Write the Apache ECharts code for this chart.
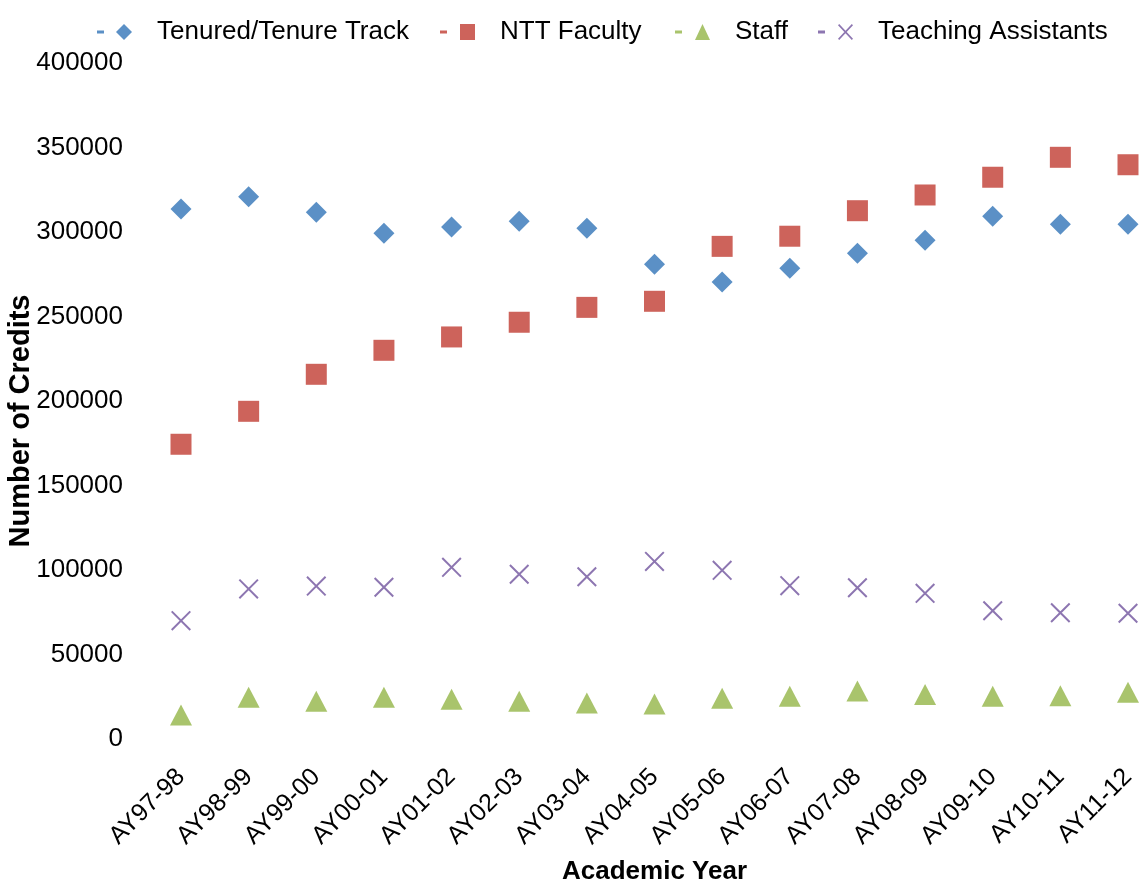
<!DOCTYPE html>
<html>
<head>
<meta charset="utf-8">
<script src="https://cdn.jsdelivr.net/npm/echarts@6/dist/echarts.min.js"></script>
<style>
html,body{margin:0;padding:0;background:#fff;}
#chart{width:1141px;height:886px;}
</style>
</head>
<body>
<div id="chart"></div>
<script>
const categories = ['AY97-98','AY98-99','AY99-00','AY00-01','AY01-02','AY02-03','AY03-04','AY04-05','AY05-06','AY06-07','AY07-08','AY08-09','AY09-10','AY10-11','AY11-12'];
const tenured = [313600,320900,311700,299200,303000,306300,302200,280900,270400,278500,287400,295100,309300,304600,304600];
const nttFaculty = [174400,193900,215800,230000,237900,246600,255400,259000,291500,297500,312600,321900,332400,344200,339800];
const staff = [14200,24700,22300,24700,23500,22300,21300,20700,24100,25300,28400,26400,25300,25600,27600];
const teachingAssistants = [70000,88800,90500,89800,101600,97500,96000,105100,99800,90700,89500,86200,75900,74700,74400];
const yMin = 0, yMax = 400000, yStep = 50000;

const FONT = '"Liberation Sans", Arial, sans-serif';
const C_TEN = '#5B90C6', C_NTT = '#CD635B', C_STAFF = '#A9C46C', C_TA = '#8D76B1';

const xPath = 'path://M0,1.4L1.4,0L20,18.6L18.6,20Z M18.6,0L20,1.4L1.4,20L0,18.6Z';
const dot = 'M0,6.5L7,6.5L7,9.5L0,9.5Z ';
const iconTen = 'path://' + dot + 'M27,0L35,8L27,16L19,8Z';
const iconNtt = 'path://' + dot + 'M20,0L35,0L35,16L20,16Z';
const iconStaff = 'path://' + dot + 'M27.5,0L35,16L20,16Z';
const iconTa = 'path://' + dot + 'M20,1.2L21.2,0L35,14.8L33.8,16Z M33.8,0L35,1.2L21.2,16L20,14.8Z';

function legend(name, left, icon) {
  return {
    left: left, top: 14, itemWidth: 35, itemHeight: 16, itemGap: 0,
    data: [{name: name, icon: icon}],
    textStyle: {fontFamily: FONT, fontSize: 26, color: '#000', padding: [0,0,0,20]}
  };
}

const chart = echarts.init(document.getElementById('chart'), null, {renderer: 'canvas'});
chart.setOption({
  backgroundColor: '#fff',
  animation: false,
  legend: [
    legend('Tenured/Tenure Track', 92, iconTen),
    legend('NTT Faculty', 435, iconNtt),
    legend('Staff', 670, iconStaff),
    legend('Teaching Assistants', 813, iconTa)
  ],
  grid: {left: 181, right: 13, top: 63, bottom: 147, containLabel: false, outerBoundsMode: 'none'},
  xAxis: {
    type: 'category', data: categories, boundaryGap: false,
    axisLine: {show: false}, axisTick: {show: false}, splitLine: {show: false},
    axisLabel: {rotate: 45, margin: 34, fontFamily: FONT, fontSize: 25, color: '#000'},
    name: 'Academic Year', nameLocation: 'middle', nameGap: 120, nameMoveOverlap: false,
    nameTextStyle: {fontFamily: FONT, fontSize: 26, fontWeight: 'bold', color: '#000'}
  },
  yAxis: {
    type: 'value', min: yMin, max: yMax, interval: yStep,
    axisLine: {show: false}, axisTick: {show: false}, splitLine: {show: false},
    axisLabel: {margin: 58, fontFamily: FONT, fontSize: 26, color: '#000', padding: [6, 0, 0, 0], formatter: function (v) { return String(v); }},
    name: 'Number of Credits', nameLocation: 'middle', nameGap: 146, nameMoveOverlap: false,
    nameTextStyle: {fontFamily: FONT, fontSize: 29, fontWeight: 'bold', color: '#000', padding: [0, 40, 0, 0]}
  },
  series: [
    {name: 'Tenured/Tenure Track', type: 'scatter', data: tenured, symbol: 'diamond', symbolSize: 21, itemStyle: {color: C_TEN, opacity: 1}},
    {name: 'NTT Faculty', type: 'scatter', data: nttFaculty, symbol: 'rect', symbolSize: 21, itemStyle: {color: C_NTT, opacity: 1}},
    {name: 'Staff', type: 'scatter', data: staff, symbol: 'triangle', symbolSize: [22, 21], itemStyle: {color: C_STAFF, opacity: 1}},
    {name: 'Teaching Assistants', type: 'scatter', data: teachingAssistants, symbol: xPath, symbolSize: 20, itemStyle: {color: C_TA, opacity: 1}}
  ]
});
</script>
</body>
</html>
